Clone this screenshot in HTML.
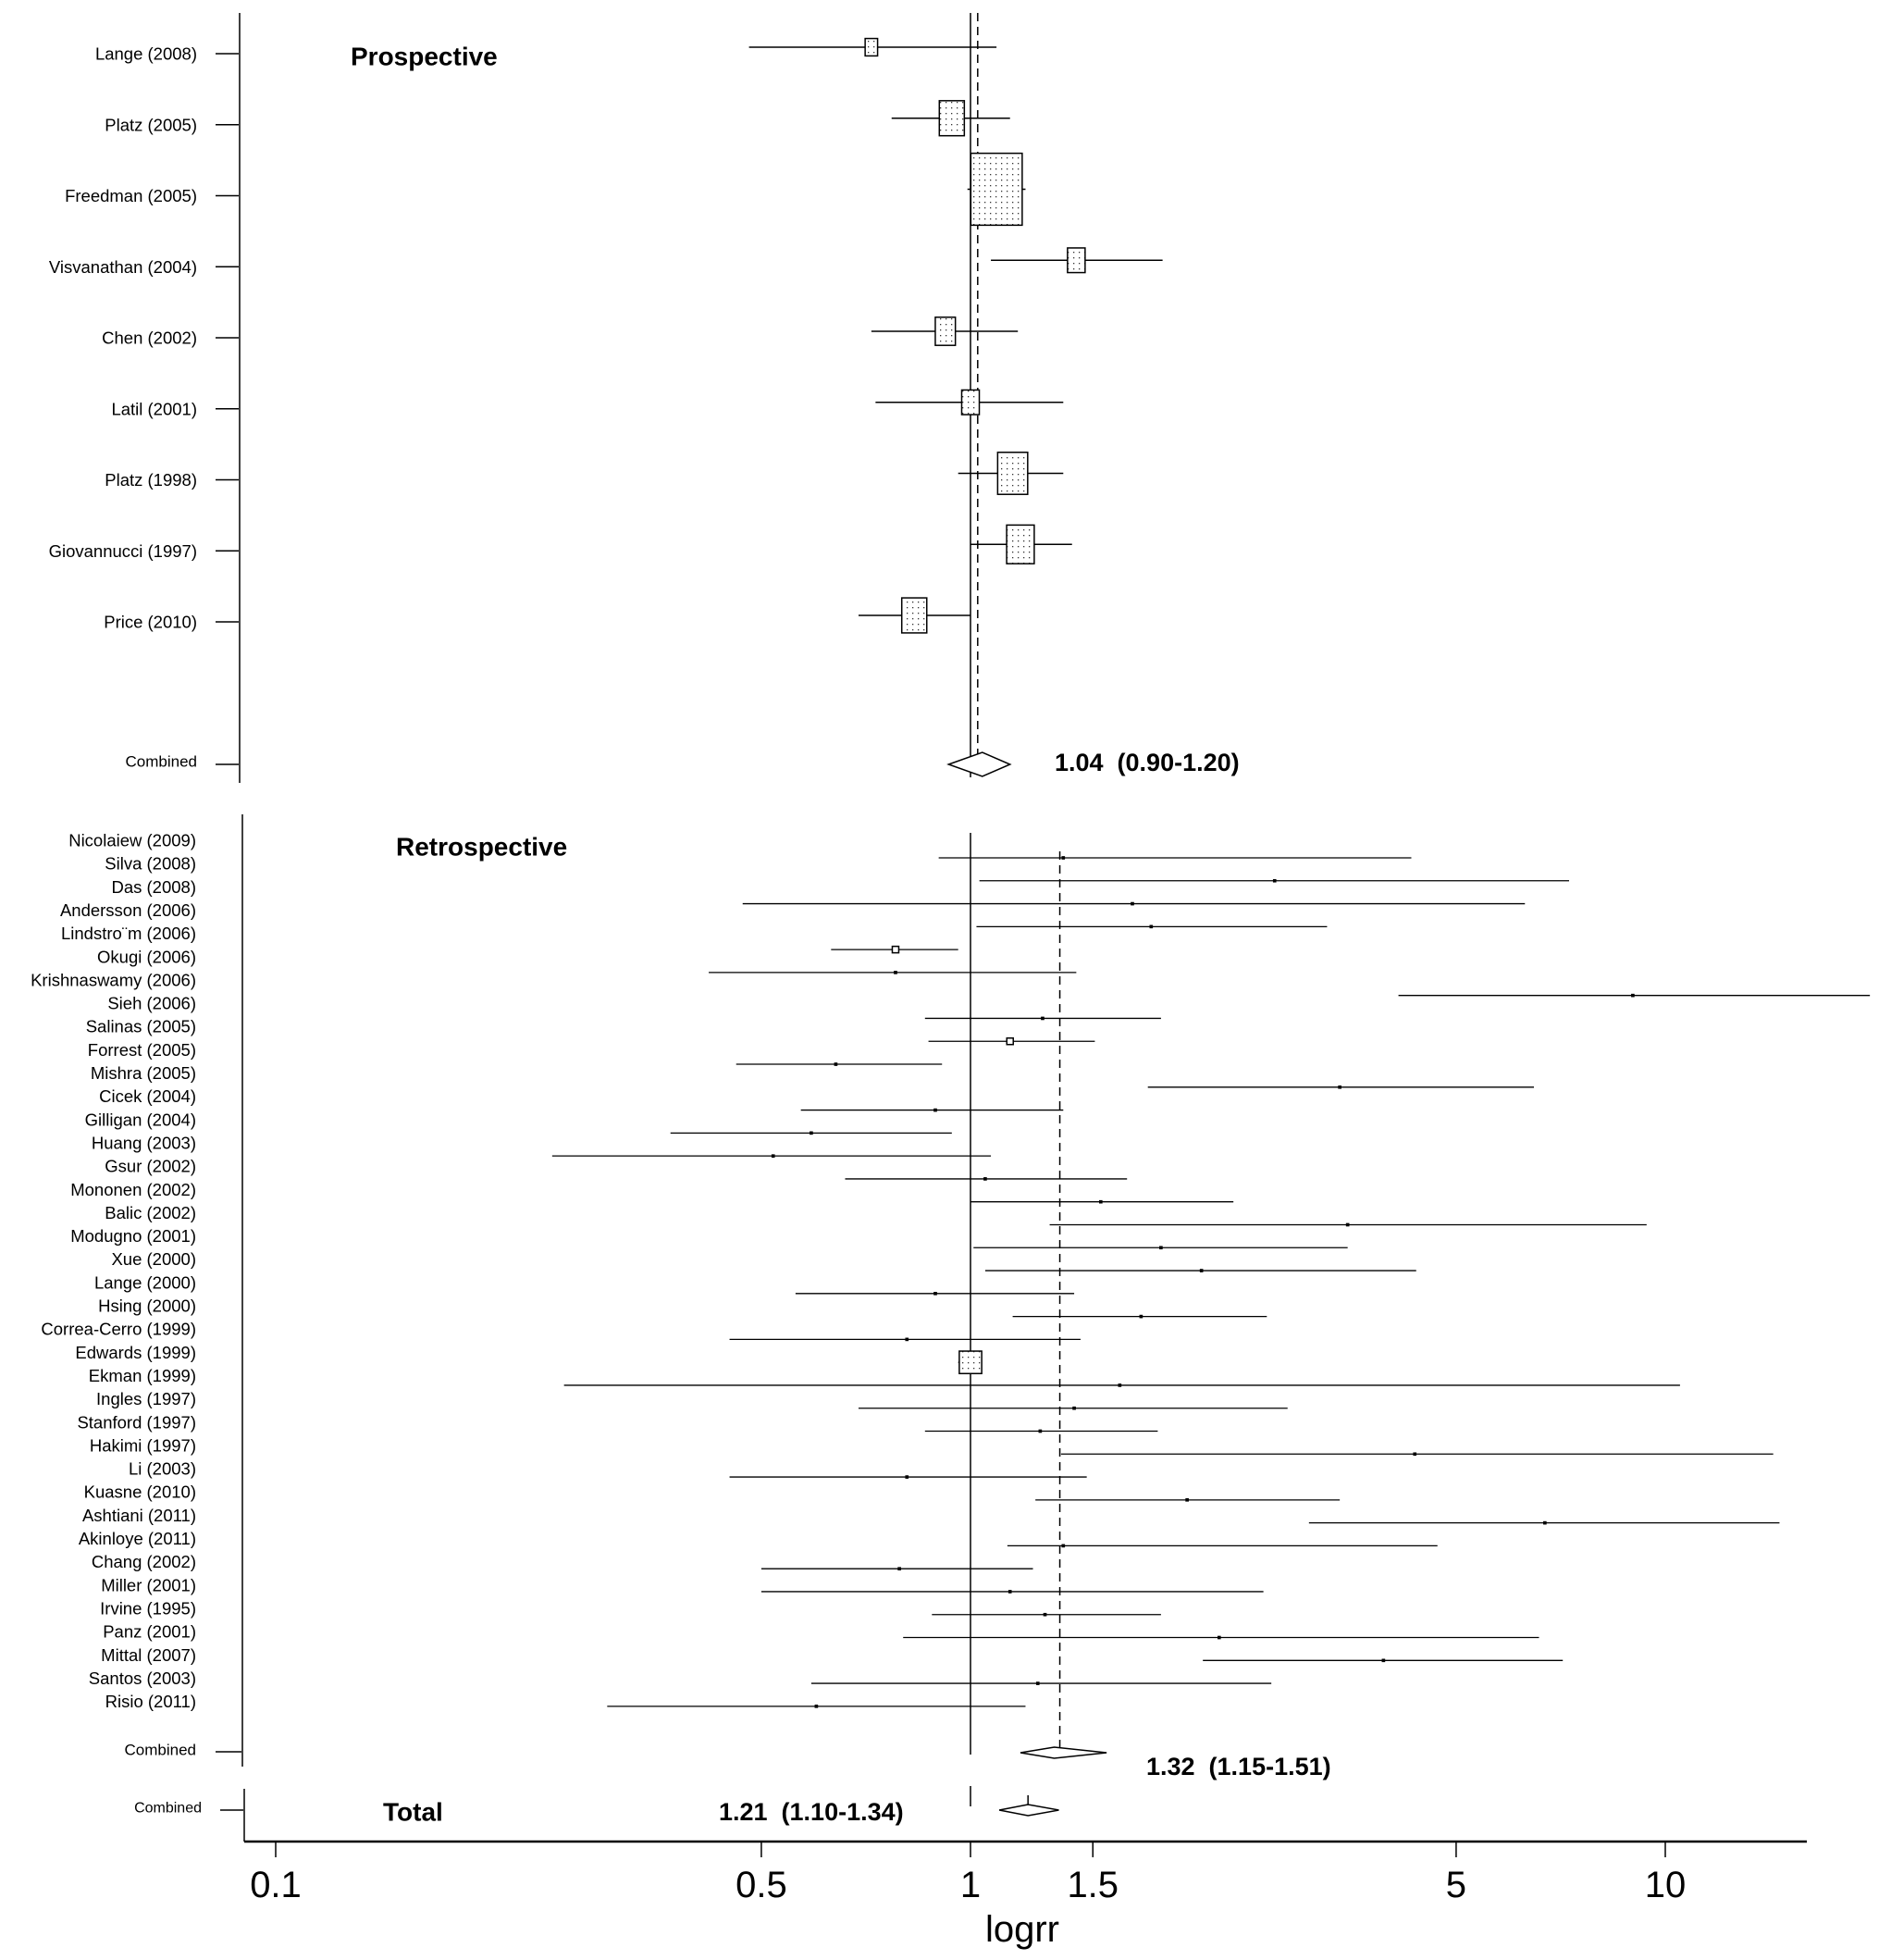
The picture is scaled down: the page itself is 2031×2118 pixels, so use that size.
<!DOCTYPE html>
<html><head><meta charset="utf-8"><style>
html,body{margin:0;padding:0;background:#fff;}
svg{display:block;font-family:"Liberation Sans",sans-serif;}
</style></head><body>
<svg id="chart" width="2031" height="2118" viewBox="0 0 2031 2118" xmlns="http://www.w3.org/2000/svg">
<defs>
<pattern id="dots" width="6" height="6" patternUnits="userSpaceOnUse"><rect width="6" height="6" fill="#fff"/><rect x="2" y="2" width="1.3" height="1.3" fill="#333"/></pattern>
</defs>
<g id="g"></g>
</svg>
<script>
const prosStudies=["Lange (2008)","Platz (2005)","Freedman (2005)","Visvanathan (2004)","Chen (2002)","Latil (2001)","Platz (1998)","Giovannucci (1997)","Price (2010)"];
const prosRR=[0.72,0.94,1.09,1.42,0.92,1.00,1.15,1.18,0.83];
const prosLo=[0.48,0.77,0.99,1.07,0.72,0.73,0.96,1.00,0.69];
const prosHi=[1.09,1.14,1.20,1.89,1.17,1.36,1.36,1.40,1.00];
const prosWeight=[2.3,9.3,39.2,4.6,6.0,4.6,13.4,11.3,9.3];
const prosCombined=[1.04,0.90,1.20];
const prosDiamond=[1.04,0.93,1.14];

const retroStudies=["Nicolaiew (2009)","Silva (2008)","Das (2008)","Andersson (2006)","Lindstro¨m (2006)","Okugi (2006)","Krishnaswamy (2006)","Sieh (2006)","Salinas (2005)","Forrest (2005)","Mishra (2005)","Cicek (2004)","Gilligan (2004)","Huang (2003)","Gsur (2002)","Mononen (2002)","Balic (2002)","Modugno (2001)","Xue (2000)","Lange (2000)","Hsing (2000)","Correa-Cerro (1999)","Edwards (1999)","Ekman (1999)","Ingles (1997)","Stanford (1997)","Hakimi (1997)","Li (2003)","Kuasne (2010)","Ashtiani (2011)","Akinloye (2011)","Chang (2002)","Miller (2001)","Irvine (1995)","Panz (2001)","Mittal (2007)","Santos (2003)","Risio (2011)"];
const retroRR=[1.36,2.74,1.71,1.82,0.78,0.78,8.98,1.27,1.14,0.64,3.40,0.89,0.59,0.52,1.05,1.54,3.49,1.88,2.15,0.89,1.76,0.81,1.00,1.64,1.41,1.26,4.36,0.81,2.05,6.71,1.36,0.79,1.14,1.28,2.28,3.93,1.25,0.60];
const retroLo=[0.90,1.03,0.47,1.02,0.63,0.42,4.13,0.86,0.87,0.46,1.80,0.57,0.37,0.25,0.66,1.00,1.30,1.01,1.05,0.56,1.15,0.45,0.96,0.26,0.69,0.86,1.35,0.45,1.24,3.07,1.13,0.50,0.50,0.88,0.80,2.16,0.59,0.30];
const retroHi=[4.31,7.27,6.28,3.26,0.96,1.42,19.7,1.88,1.51,0.91,6.47,1.36,0.94,1.07,1.68,2.39,9.40,3.49,4.38,1.41,2.67,1.44,1.03,10.5,2.86,1.86,14.3,1.47,3.40,14.6,4.70,1.23,2.64,1.88,6.58,7.12,2.71,1.20];
const retroWeight=[0.2,0.2,0.2,0.2,1,0.2,0.2,0.2,1,0.2,0.2,0.2,0.2,0.2,0.2,0.2,0.2,0.2,0.2,0.2,0.2,0.2,12,0.2,0.2,0.2,0.2,0.2,0.2,0.2,0.2,0.2,0.2,0.2,0.2,0.2,0.2,0.2];
const retroCombined=[1.32,1.15,1.51];
const retroDiamond=[1.32,1.18,1.57];
const totalCombined=[1.21,1.10,1.34];
const tickValues=[0.1,0.5,1,1.5,5,10];
const tickLabels=["0.1","0.5","1","1.5","5","10"];

const NS="http://www.w3.org/2000/svg";
const G=document.getElementById('g');
const X0=1049, DEC=751;
function x(v){return X0+DEC*Math.log10(v);}
function el(tag,attrs,name){const e=document.createElementNS(NS,tag);for(const k in attrs)e.setAttribute(k,attrs[k]);


G.appendChild(e);return e;}
function line(x1,y1,x2,y2,name,w,dash){return el('line',{x1,y1,x2,y2,stroke:'#000','stroke-width':w||1.5,'stroke-dasharray':dash||'none'},name);}
function text(t,xx,yy,size,name,anchor,weight){const e=el('text',{x:xx,y:yy,'font-size':size,'text-anchor':anchor||'start','dominant-baseline':'central','font-weight':weight||'normal'},name);e.textContent=t;return e;}
function diamond(c,y,h,name){const a=x(c[1]),m=x(c[0]),b=x(c[2]);return el('polygon',{points:`${a},${y} ${m},${y-h/2} ${b},${y} ${m},${y+h/2}`,fill:'#fff',stroke:'#000','stroke-width':1.5},name);}
function summary(c){return c[0].toFixed(2)+'\u00a0\u00a0('+c[1].toFixed(2)+'-'+c[2].toFixed(2)+')';}

// Prospective panel
line(259,14,259,846,'prospective-left-axis');
text('Prospective',379,61,28,'prospective-title','start','bold');
line(x(1),14,x(1),840,'prospective-null-line');
line(x(prosCombined[0])-5,14,x(prosCombined[0])-5,826,'prospective-pooled-line',1.5,'9,6');
prosStudies.forEach((s,i)=>{
  const ly=58+i*76.75, y=ly-7;
  text(s,213,ly,18.5,'prospective-label','end');
  line(233,ly,258,ly,'prospective-tick');
  line(x(prosLo[i]),y,x(prosHi[i]),y,'prospective-ci');
  const w=Math.sqrt(prosWeight[i]*42.89)*1.354, h=w*1.4;
  el('rect',{x:x(prosRR[i])-w/2,y:y-h/2,width:w,height:h,fill:'url(#dots)',stroke:'#000','stroke-width':1.5},'prospective-box');
});
text('Combined',213,823,17,'prospective-combined-label','end');
line(233,826,258,826,'prospective-combined-tick');
diamond(prosDiamond,826,26,'prospective-diamond');
text(summary(prosCombined),1140,824,27,'prospective-summary-text','start','bold');

// Retrospective panel
line(262,880,262,1909,'retrospective-left-axis');
text('Retrospective',428,915,28,'retrospective-title','start','bold');
line(x(1),900,x(1),1896,'retrospective-null-line');
line(x(retroCombined[0])+6,920,x(retroCombined[0])+6,1896,'retrospective-pooled-line',1.5,'9,6');
retroStudies.forEach((s,i)=>{
  text(s,212,908+i*25.15,18.5,'retrospective-label','end');
});
retroRR.forEach((v,i)=>{
  const y=927+i*24.78;
  line(x(retroLo[i]),y,x(retroHi[i]),y,'retrospective-ci',1.3);
  const big=retroWeight[i]>5;
  const w=Math.max(2.5,Math.sqrt(retroWeight[i])*7);
  el('rect',{x:x(v)-w/2,y:y-w/2,width:w,height:w,fill:big?'url(#dots)':(retroWeight[i]>=1?'#fff':'#000'),stroke:'#000','stroke-width':big?1.5:(retroWeight[i]>=1?1.5:0.5)},'retrospective-box');
});
text('Combined',212,1891,17,'retrospective-combined-label','end');
line(233,1893,261,1893,'retrospective-combined-tick');
diamond(retroDiamond,1894,12,'retrospective-diamond');
text(summary(retroCombined),1239,1909,27,'retrospective-summary-text','start','bold');

// Total panel
line(264,1933,264,1990,'total-left-axis');
text('Combined',218,1954,16,'total-combined-label','end');
line(238,1956,263,1956,'total-combined-tick');
text('Total',414,1958,28,'total-title','start','bold');
line(x(1),1930,x(1),1952,'total-null-line');
line(x(totalCombined[0]),1940,x(totalCombined[0]),1950,'total-pooled-tick');
diamond(totalCombined,1956,12,'total-diamond');
text(summary(totalCombined),777,1958,27,'total-summary-text','start','bold');

// X axis
line(264,1990,1953,1990,'x-axis-line',2.5);
tickValues.forEach((v,i)=>{
  line(x(v),1990,x(v),2007,'x-axis-tick');
  text(tickLabels[i],x(v),2037,40,'x-tick-label','middle');
});
text('logrr',1105,2085,40,'x-axis-title','middle');
</script>
</body></html>
